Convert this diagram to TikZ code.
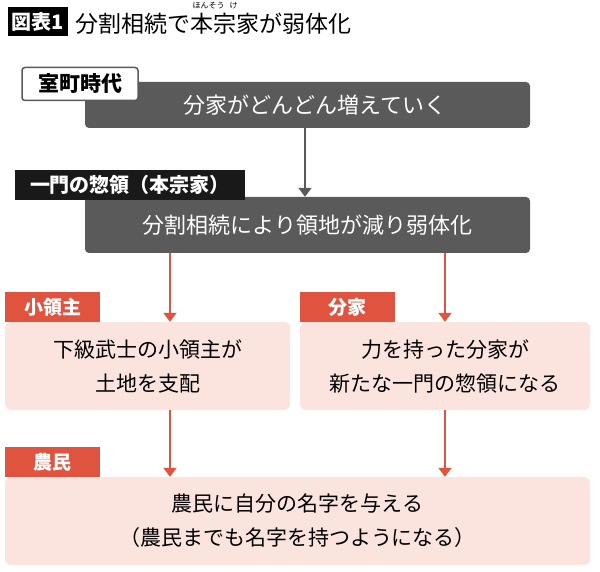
\documentclass[tikz,border=0pt]{standalone}
\usepackage{fontspec}
\setmainfont{Noto Sans CJK JP}
\usepackage{tikz}
\usetikzlibrary{arrows.meta}
\definecolor{darkbar}{HTML}{5A5A5A}
\definecolor{redline}{HTML}{E0533F}
\definecolor{pinkbox}{HTML}{FCE4DE}
\tikzset{
  bar/.style={fill=darkbar, rounded corners=4pt, text=white, font=\fontsize{22}{26}\selectfont},
  pink/.style={fill=pinkbox, rounded corners=6pt, align=center, font=\fontsize{21}{34}\selectfont},
  tag/.style={fill=redline, text=white, font=\bfseries\fontsize{19}{22}\selectfont, inner sep=0pt},
  redarrow/.style={draw=redline, line width=2pt, -{Triangle[length=9pt,width=13pt]}},
}
\begin{document}
\begin{tikzpicture}[x=1pt, y=-1pt]
    \useasboundingbox (0,0) rectangle (600,572);
    % Titel.
    \node[fill=black, text=white, font=\bfseries\fontsize{20}{22}\selectfont, minimum width=60, minimum height=29, inner sep=0pt] (fig) at (38,22) {図表1};
    \node[anchor=west, font=\fontsize{23}{26}\selectfont, inner sep=0pt] (title) at (75,24) {分割相続で本宗家が弱体化};
    \node[font=\fontsize{8}{9}\selectfont, inner sep=0pt] (ruby) at (215,6) {ほんそう\hspace{5pt}け};
    % Obere Balken.
    \node[bar, minimum width=445, minimum height=46, inner sep=0pt] (bar1) at (307.5,105) {\hspace*{15pt}分家がどんどん増えていく};
    \node[fill=white, draw=darkbar, line width=1.5pt, rounded corners=3pt, font=\bfseries\fontsize{21}{24}\selectfont, minimum width=116, minimum height=33, inner sep=0pt] (era) at (80,84) {室町時代};
    \node[bar, minimum width=445, minimum height=56, inner sep=0pt] (bar2) at (307.5,225) {分割相続により領地が減り弱体化};
    \node[fill=black!90, text=white, font=\bfseries\fontsize{20}{22}\selectfont, minimum width=230, minimum height=30, inner sep=0pt] (head) at (130,185) {一門の惣領（本宗家）};
    \draw[draw=darkbar, line width=2pt, -{Triangle[length=9pt,width=13pt]}] (bar1.south -| 305,0) -- (bar2.north -| 305,0);
    % Untere Kaesten.
    \node[pink, minimum width=285, minimum height=88, inner sep=0pt] (lord) at (147.5,366) {下級武士の小領主が\\土地を支配};
    \node[pink, minimum width=290, minimum height=88, inner sep=0pt] (branch) at (445,366) {力を持った分家が\\新たな一門の惣領になる};
    \node[pink, minimum width=585, minimum height=88, inner sep=0pt] (farmer) at (297.5,521) {農民に自分の名字を与える\\（農民までも名字を持つようになる）};
    \node[tag, minimum width=95, minimum height=30] (tlord) at (52.5,307) {小領主};
    \node[tag, minimum width=95, minimum height=30] (tbranch) at (347.5,307) {分家};
    \node[tag, minimum width=95, minimum height=30] (tfarmer) at (52.5,462) {農民};
    % Pfeile.
    \draw[redarrow] (bar2.south -| 170,0) -- (lord.north -| 170,0);
    \draw[redarrow] (bar2.south -| 445,0) -- (branch.north -| 445,0);
    \draw[redarrow] (lord.south -| 170,0) -- (farmer.north -| 170,0);
    \draw[redarrow] (branch.south -| 445,0) -- (farmer.north -| 445,0);
\end{tikzpicture}
\end{document}
